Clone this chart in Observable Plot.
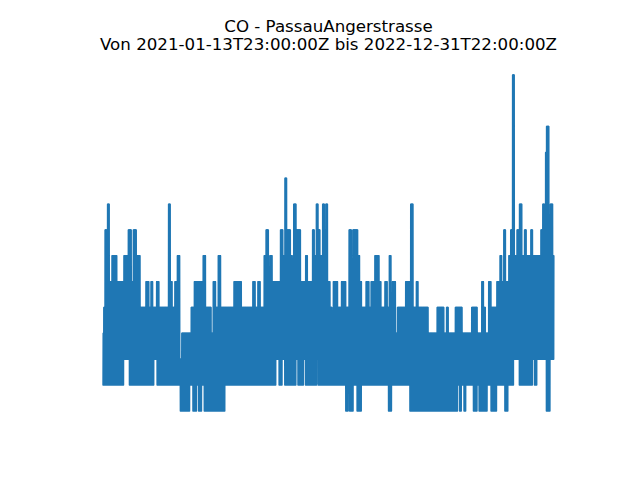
<!DOCTYPE html>
<html><head><meta charset="utf-8">
<script src="https://cdn.jsdelivr.net/npm/d3@7"></script>
<script src="https://cdn.jsdelivr.net/npm/@observablehq/plot@0.6"></script>
<style>html,body{margin:0;padding:0;background:#fff}</style>
</head><body><div id="chart"></div>
<script>
const titleLines = ["CO - PassauAngerstrasse", "Von 2021-01-13T23:00:00Z bis 2022-12-31T22:00:00Z"];
const startTime = "2021-01-13T23:00:00Z";
const endTime = "2022-12-31T22:00:00Z";

// Upper envelope of the hourly series: day offset from start -> max value (mg/m³)
const maxDays = [0,1,3,7,10,14,22,33,40,45,48,53,59,68,73,76,79,85,89,104,
  107,110,114,118,122,125,140,145,159,163,172,175,179,183,187,208,220,238,242,246,
  250,256,259,263,265,269,282,286,289,292,298,301,303,307,314,322,325,333,336,339,
  342,345,349,352,354,357,361,364,366,373,379,386,391,395,397,405,408,411,418,423,
  426,432,439,442,448,452,455,458,460,465,468,481,489,493,498,501,517,531,542,546,
  549,560,571,586,595,602,605,608,613,617,626,631,634,637,640,645,648,651,654,658,
  662,666,670,673,680,683,696,699,702,703.5,705,709,711,715];
const maxVals = [0.4,0.5,0.8,0.9,0.6,0.7,0.6,0.7,0.8,0.6,0.8,0.7,0.5,0.6,0.5,0.6,0.5,0.6,0.5,0.9,
  0.6,0.5,0.6,0.7,0.3,0.4,0.5,0.6,0.7,0.5,0.4,0.6,0.5,0.7,0.5,0.6,0.5,0.6,0.5,0.6,
  0.5,0.7,0.8,0.5,0.7,0.6,0.8,0.7,1.0,0.8,0.7,0.6,0.9,0.8,0.6,0.7,0.6,0.8,0.7,0.9,
  0.8,0.7,0.9,0.8,0.9,0.6,0.5,0.4,0.6,0.5,0.6,0.5,0.8,0.5,0.8,0.7,0.6,0.5,0.6,0.5,
  0.6,0.7,0.6,0.5,0.6,0.5,0.7,0.4,0.6,0.4,0.5,0.6,0.9,0.5,0.6,0.5,0.4,0.5,0.4,0.5,
  0.4,0.5,0.4,0.5,0.4,0.6,0.5,0.4,0.6,0.5,0.6,0.7,0.6,0.8,0.6,0.7,0.8,1.4,0.7,0.8,
  0.9,0.7,0.8,0.7,0.8,0.7,0.8,0.9,0.8,1.1,1.2,0.7,0.9,0.7];

// Lower envelope: day offset from start -> min value (mg/m³)
const minDays = [0,33,42,81,86,123,138,143,149,152,157,161,194,275,280,285,289,307,310,319,
  322,340,342,386,390,392,398,404,411,454,459,488,564,567,570,574,577,589,595,598,
  611,617,626,639,644,653,662,683,686,690,705,711];
const minVals = [0.2,0.3,0.2,0.3,0.2,0.1,0.2,0.1,0.2,0.1,0.2,0.1,0.2,0.3,0.2,0.3,0.2,0.3,0.2,0.3,
  0.2,0.3,0.2,0.1,0.2,0.1,0.2,0.1,0.2,0.1,0.2,0.1,0.2,0.1,0.2,0.1,0.2,0.1,0.2,0.1,
  0.2,0.1,0.2,0.1,0.2,0.3,0.2,0.3,0.2,0.3,0.1,0.3];

const t0 = new Date(startTime), t1 = new Date(endTime);
const points = [];
let i = 0;
for (let t = t0; t <= t1; t = d3.utcHour.offset(t, 6), i++) {
  const day = (t - t0) / 864e5;
  const hi = maxVals[Math.max(0, d3.bisectRight(maxDays, day) - 1)];
  const lo = minVals[Math.max(0, d3.bisectRight(minDays, day) - 1)];
  points.push({date: t, value: i % 2 ? hi : lo});
}

const vMin = d3.min(minVals), vMax = d3.max(maxVals);
const vPad = (vMax - vMin) * 0.05;
const span = t1 - t0;

const chart = Plot.plot({
  width: 640, height: 480,
  marginLeft: 80, marginRight: 64, marginTop: 57.6, marginBottom: 52.8,
  x: {type: "utc", domain: [new Date(+t0 - span * 0.05), new Date(+t1 + span * 0.05)], axis: null},
  y: {domain: [vMin - vPad, vMax + vPad], axis: null},
  style: {fontFamily: "DejaVu Sans", background: "white", overflow: "visible"},
  marks: [
    Plot.line(points, {x: "date", y: "value", stroke: "#1f77b4", strokeWidth: 1.5}),
    Plot.text([titleLines.join("\n")], {frameAnchor: "top", lineAnchor: "bottom", dy: -8,
      fontSize: 16.67, lineHeight: 1.06, fill: "black"})
  ]
});
document.getElementById("chart").append(chart);
</script>
</body></html>
